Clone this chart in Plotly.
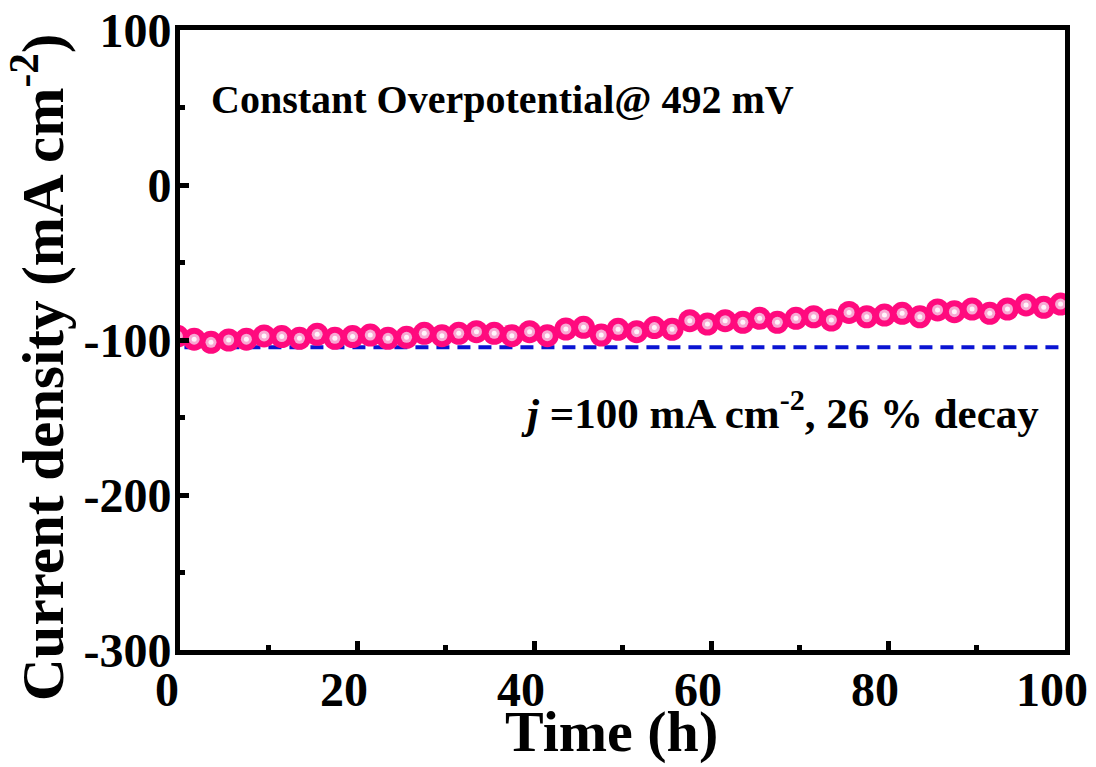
import plotly.graph_objects as go

time_h = [-0.3, 1.6, 3.5, 5.5, 7.5, 9.5, 11.5, 13.5, 15.5, 17.5, 19.5, 21.5, 23.5,
          25.6, 27.6, 29.6, 31.5, 33.5, 35.5, 37.5, 39.5, 41.5, 43.6, 45.6, 47.6, 49.5,
          51.6, 53.6, 55.6, 57.6, 59.6, 61.6, 63.6, 65.5, 67.5, 69.6, 71.6, 73.6,
          75.6, 77.6, 79.6, 81.6, 83.6, 85.6, 87.5, 89.5, 91.5, 93.5, 95.6, 97.6, 99.5]
current = [-97.5, -99.5, -101.5, -100.0, -99.5, -97.4, -97.8, -98.9, -96.3, -98.9, -97.8, -96.8, -98.9,
           -98.3, -95.7, -97.2, -95.7, -94.6, -95.7, -97.2, -94.6, -97.2, -92.9, -91.8, -96.8, -93.1,
           -94.6, -92.0, -93.1, -87.5, -89.7, -87.5, -88.6, -86.0, -88.6, -86.0, -85.0, -87.1,
           -82.2, -85.0, -83.9, -82.8, -85.0, -80.6, -81.7, -80.0, -82.8, -80.0, -77.4, -78.9, -76.8]

ref_time = [0.5, 100]
ref_current = [-104.7, -104.7]

x_tickvals = [0, 20, 40, 60, 80, 100]
x_ticktext = ["0", "20", "40", "60", "80", "100"]
y_tickvals = [100, 0, -100, -200, -300]
y_ticktext = ["100", "0", "-100", "-200", "-300"]

FONT = "Liberation Serif"
PINK = "#FF0A7E"

fig = go.Figure()
fig.add_trace(go.Scatter(x=ref_time, y=ref_current, mode="lines",
                         line=dict(color="#0A14D2", width=4, dash="13px,8px"),
                         showlegend=False, hoverinfo="skip"))
fig.add_trace(go.Scatter(x=time_h, y=current, mode="markers",
                         marker=dict(size=23, color=PINK, line=dict(width=0)),
                         showlegend=False))
fig.add_trace(go.Scatter(x=time_h, y=current, mode="markers",
                         marker=dict(size=11, color="#F8A9D3", line=dict(width=0)),
                         showlegend=False, hoverinfo="skip"))
fig.add_trace(go.Scatter(x=time_h, y=current, mode="markers",
                         marker=dict(size=5, color="#FFF4FA", line=dict(width=0)),
                         showlegend=False, hoverinfo="skip"))

axis_common = dict(
    showline=True, linecolor="black", linewidth=5, mirror=True,
    ticks="inside", ticklen=9, tickwidth=5, tickcolor="black",
    showgrid=False, zeroline=False, automargin=False,
    ticklabeloverflow="allow",
    tickfont=dict(family=FONT, size=48, color="black", weight="bold"),
)

fig.update_xaxes(range=[0, 100], tickvals=x_tickvals, ticktext=x_ticktext,
                 minor=dict(ticks="inside", dtick=10, ticklen=5, tickwidth=5, tickcolor="black"),
                 ticklabelshift=-13, ticklabelstandoff=-7,
                 **axis_common)
fig.update_yaxes(range=[-300, 100], tickvals=y_tickvals, ticktext=y_ticktext,
                 minor=dict(ticks="inside", dtick=50, ticklen=5, tickwidth=5, tickcolor="black"),
                 ticklabelstandoff=-6,
                 **axis_common)

# page has an 8px body margin; figure coords = page coords - 8
OFF = 8
L, R, T, B = 180, 1065, 30, 650

def px(xp):
    return (xp - L) / (R - L)

def py(yp):
    return (B - yp) / (B - T)

annos = [
    dict(text="Time (h)", xref="paper", yref="paper", x=px(611), y=py(731),
         showarrow=False, xanchor="center", yanchor="middle",
         font=dict(family=FONT, size=58, color="black", weight="bold")),
    dict(text="Current density (mA cm<sup>-2</sup>)", xref="paper", yref="paper",
         x=px(38), y=py(368), textangle=-90,
         showarrow=False, xanchor="center", yanchor="middle",
         font=dict(family=FONT, size=59, color="black", weight="bold")),
    dict(text="Constant Overpotential@ 492 mV", xref="x", yref="y", x=3.3, y=55,
         showarrow=False, xanchor="left", yanchor="middle",
         font=dict(family=FONT, size=40, color="black", weight="bold")),
    dict(text="<i>j</i> =100 mA cm<sup>-2</sup>, 26 % decay", xref="x", yref="y", x=97.3, y=-145,
         showarrow=False, xanchor="right", yanchor="middle",
         font=dict(family=FONT, size=43, color="black", weight="bold")),
]

W, H = 1096 - OFF, 767 - OFF
fig.update_layout(
    width=W, height=H,
    margin=dict(l=L - OFF, r=W - (R - OFF), t=T - OFF, b=H - (B - OFF)),
    plot_bgcolor="white", paper_bgcolor="white",
    annotations=annos,
)

fig.write_html("out.html")
